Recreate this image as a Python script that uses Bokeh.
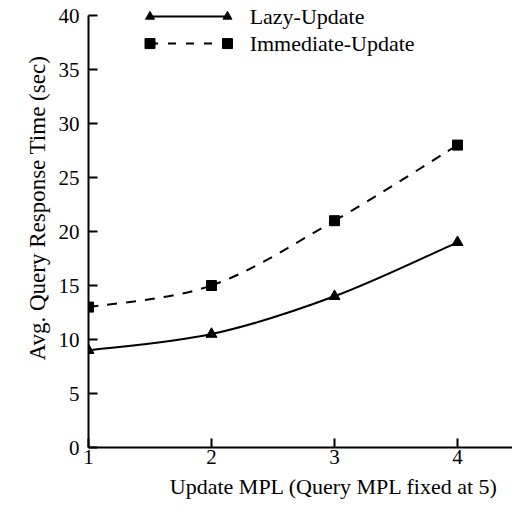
from bokeh.plotting import figure
from bokeh.models import Range1d, Title, FixedTicker
from bokeh.core.properties import value
from bokeh.embed import file_html
from bokeh.resources import INLINE

# ---- data ----
update_mpl = [1, 2, 3, 4]
lazy_update = [9, 10.5, 14, 19]
immediate_update = [13, 15, 21, 28]
series_names = ["Lazy-Update", "Immediate-Update"]
y_ticks = [0, 5, 10, 15, 20, 25, 30, 35, 40]
x_ticks = [1, 2, 3, 4]

FONT = "Liberation Serif"

p = figure(width=512, height=511, output_backend="svg", toolbar_location=None,
           x_range=Range1d(1, 1 + 424 / 123), y_range=Range1d(0, 447 / 10.8),
           min_border_left=88, min_border_right=0, min_border_top=0,
           min_border_bottom=64)
p.outline_line_color = None
p.grid.visible = False
p.background_fill_color = "white"
p.border_fill_color = "white"


def smooth(xs, ys):
    # Catmull-Rom -> cubic Bezier control points computed from the data
    n = len(xs)
    px = [xs[0]] + list(xs) + [xs[-1]]
    py = [ys[0]] + list(ys) + [ys[-1]]
    out = dict(x0=[], y0=[], x1=[], y1=[], cx0=[], cy0=[], cx1=[], cy1=[])
    for i in range(1, n):
        out["x0"].append(px[i]); out["y0"].append(py[i])
        out["x1"].append(px[i + 1]); out["y1"].append(py[i + 1])
        out["cx0"].append(px[i] + (px[i + 1] - px[i - 1]) / 6)
        out["cy0"].append(py[i] + (py[i + 1] - py[i - 1]) / 6)
        out["cx1"].append(px[i + 1] - (px[i + 2] - px[i]) / 6)
        out["cy1"].append(py[i + 1] - (py[i + 2] - py[i]) / 6)
    return out


b1 = smooth(update_mpl, lazy_update)
p.bezier(source=b1, x0="x0", y0="y0", x1="x1", y1="y1", cx0="cx0", cy0="cy0",
         cx1="cx1", cy1="cy1", line_color="black", line_width=2)
p.scatter(update_mpl, lazy_update, marker="triangle", size=11, color="black")

b2 = smooth(update_mpl, immediate_update)
p.bezier(source=b2, x0="x0", y0="y0", x1="x1", y1="y1", cx0="cx0", cy0="cy0",
         cx1="cx1", cy1="cy1", line_color="black", line_width=2, line_dash="10 9")
p.scatter(update_mpl, immediate_update, marker="square", size=10, color="black")

# ---- manual legend ----
lx0, lx1, ltx = 1.50, 2.13, 2.31
ly = [39.9, 37.4]
p.line([lx0, lx1], [ly[0], ly[0]], line_color="black", line_width=2)
p.scatter([lx0, lx1], [ly[0], ly[0]], marker="triangle", size=9, color="black")
p.line([lx0, lx1], [ly[1], ly[1]], line_color="black", line_width=2, line_dash="8 10")
p.scatter([lx0, lx1], [ly[1], ly[1]], marker="square", size=10, color="black")
p.text([ltx, ltx], ly, text=series_names, text_font=value(FONT),
       text_font_size="22px", text_baseline="middle", text_align="left",
       text_color="black")

# ---- axes ----
for ax in (p.xaxis[0], p.yaxis[0]):
    ax.axis_line_width = 2
    ax.axis_line_color = "black"
    ax.major_tick_in = 9
    ax.major_tick_out = 0
    ax.major_tick_line_width = 2
    ax.major_tick_line_color = "black"
    ax.minor_tick_line_color = None
    ax.major_label_text_font = FONT
    ax.major_label_text_font_size = "21px"
    ax.major_label_text_color = "black"

p.yaxis[0].bounds = (0, 40)
p.yaxis[0].ticker = FixedTicker(ticks=y_ticks)
p.yaxis[0].major_label_standoff = 9

yt = Title(text="Avg. Query Response Time (sec)", align="left",
           text_font=FONT, text_font_size="23px", text_font_style="normal",
           text_color="black", offset=87, standoff=12)
p.add_layout(yt, "left")

p.xaxis[0].ticker = FixedTicker(ticks=x_ticks)
p.xaxis[0].major_label_standoff = 2

xt = Title(text="Update MPL (Query MPL fixed at 5)", align="right",
           text_font=FONT, text_font_size="22px", text_font_style="normal",
           text_color="black", offset=14, standoff=10)
p.add_layout(xt, "below")

open("out.html", "w").write(file_html(p, INLINE))
